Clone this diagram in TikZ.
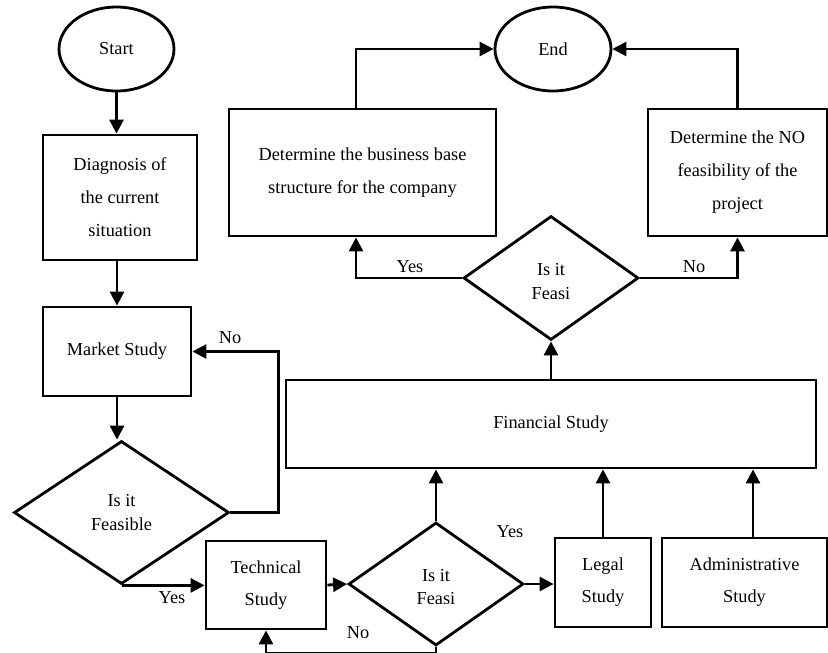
\documentclass[tikz,border=0pt]{standalone}
\usepackage{fontspec}
\setmainfont{Liberation Serif}
\usetikzlibrary{shapes.geometric,arrows.meta}
\begin{document}
\begin{tikzpicture}[x=1pt,y=-1pt,
  every node/.style={font=\fontsize{18.3}{33}\selectfont, inner sep=0pt},
  box/.style={draw, line width=2.8pt, rectangle, align=center},
  oval/.style={draw, line width=2.8pt, ellipse},
  dec/.style={draw, line width=2.8pt, diamond},
  arr/.style={line width=2.8pt, -{Triangle[length=14pt,width=14pt]}},
  dtext/.style={align=center, font=\fontsize{18.3}{23.4}\selectfont}]
\useasboundingbox (0,0) rectangle (828,653);

% nodes
\node[oval, minimum width=115pt, minimum height=84pt] (start) at (116.5,49) {Start};
\node[oval, minimum width=116pt, minimum height=84pt] (end) at (553,49) {End};
\node[box, minimum width=154pt, minimum height=125pt] (diag) at (120,197.5) {Diagnosis of\\the current\\situation};
\node[box, minimum width=148pt, minimum height=89pt] (mk) at (117,351.5) {Market Study};
\node[dec, minimum width=215pt, minimum height=143pt, align=center, font=\fontsize{18.3}{24.7}\selectfont] (ld) at (121.5,512.5) {Is it\\Feasible};
\node[box, minimum width=267pt, minimum height=127pt] (biz) at (362.5,172.5) {Determine the business base\\structure for the company};
\node[box, minimum width=179pt, minimum height=127pt] (nof) at (737.5,172.5) {Determine the NO\\feasibility of the\\project};
\node[dec, minimum width=175pt, minimum height=124pt] (td) at (551,278) {};
\node[box, minimum width=530pt, minimum height=88pt] (fin) at (551,424) {Financial Study};
\node[box, minimum width=120pt, minimum height=88pt, font=\fontsize{18.3}{32}\selectfont] (tech) at (266,585) {Technical\\Study};
\node[dec, minimum width=175pt, minimum height=123pt] (md) at (436,584) {};
\node[box, minimum width=96pt, minimum height=89pt, font=\fontsize{18.3}{32}\selectfont] (legal) at (603,582.5) {Legal\\Study};
\node[box, minimum width=165pt, minimum height=89pt, font=\fontsize{18.3}{32}\selectfont] (adm) at (744.5,582.5) {Administrative\\Study};

% clipped diamond texts
\begin{scope}
  \clip (480,250) rectangle (620,298.5);
  \node[dtext] (tdtext) at (551,281.5) {Is it\\Feasi};
\end{scope}
\begin{scope}
  \clip (380,550) rectangle (490,603);
  \node[dtext] (mdtext) at (436,587) {Is it\\Feasi};
\end{scope}

% labels
\node (lno1) at (230,338) {No};
\node (lyes1) at (172,598) {Yes};
\node (lno2) at (358,633) {No};
\node (lyes2) at (510,532) {Yes};
\node (lyes3) at (410,267) {Yes};
\node (lno3) at (694,267) {No};

% connectors
\draw[arr] (start.south) -- (start.south |- diag.north);
\draw[arr] (mk.north |- diag.south) -- (mk.north);
\draw[arr] (mk.south) -- (mk.south |- ld.north);
\draw[arr] (ld.east) -- ++(48,0) |- (mk.east);
\draw[arr] (ld.south) -- (ld.south -| tech.west);
\draw[arr] (tech.east) -- (md.west);
\draw[arr] (md.south) -- ++(0,6) -| (tech.south);
\draw[arr] (md.north) -- (md.north |- fin.south);
\draw[arr] (md.east) -- (legal.west |- md.east);
\draw[arr] (legal.north) -- (legal.north |- fin.south);
\draw[arr] ([xshift=8.5pt]adm.north) -- ([xshift=8.5pt]adm.north |- fin.south);
\draw[arr] (fin.north) -- (td.south);
\draw[arr] (td.west) -| ([xshift=-6.5pt]biz.south);
\draw[arr] (td.east) -| (nof.south);
\draw[arr] ([xshift=-6.5pt]biz.north) |- (end.west);
\draw[arr] (nof.north) |- (end.east);
\end{tikzpicture}
\end{document}
